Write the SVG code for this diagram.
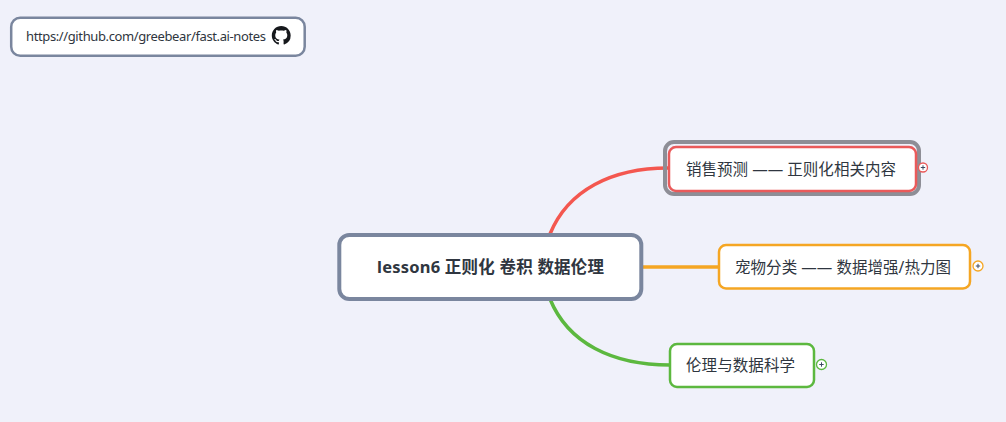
<svg xmlns="http://www.w3.org/2000/svg" width="1006" height="422" viewBox="0 0 1006 422">
  <style>
    text { font-family: "Noto Sans", "Noto Sans CJK SC", sans-serif; fill: #2f3640; }
    .box { fill: #ffffff; }
    .link { fill: none; stroke-width: 3.500; stroke-linecap: butt; }
    .t { font-size: 15.500px; }
    .exp { fill: #ffffff; stroke-width: 1.300; }
    .plus { stroke: #3c4a63; stroke-width: 1; fill: none; }
  </style>
  <rect width="1006" height="422" fill="#f0f1fa"/>
  <g id="connectors">
    <path class="link" stroke="#f4574f" d="M550 234 C568 190 612 168 668 168"/>
    <path class="link" stroke="#f5a623" d="M642 267 L719 267"/>
    <path class="link" stroke="#5cb83f" d="M550 299 C568 343 612 365 670 365"/>
  </g>
  <g id="link-node">
    <rect class="box" x="11.200" y="17.700" width="293.500" height="38" rx="9" stroke="#7a869e" stroke-width="2.500"/>
    <text x="26" y="41" font-size="13" textLength="240" lengthAdjust="spacing">https://github.com/greebear/fast.ai-notes</text>
    <path transform="translate(271.800 26) scale(1.180)" fill="#16181c" d="M8 0C3.580 0 0 3.580 0 8c0 3.540 2.290 6.530 5.470 7.590.4.070.55-.17.55-.38 0-.19-.01-.82-.01-1.490-2.010.37-2.530-.49-2.690-.94-.09-.23-.48-.94-.82-1.130-.28-.15-.68-.52-.01-.53.63-.01 1.080.58 1.230.82.72 1.210 1.870.87 2.330.66.07-.52.28-.87.51-1.070-1.780-.2-3.640-.89-3.640-3.950 0-.87.31-1.590.82-2.150-.08-.2-.36-1.020.08-2.120 0 0 .67-.21 2.200.82.64-.18 1.320-.27 2-.27s1.360.09 2 .27c1.530-1.040 2.200-.82 2.200-.82.44 1.100.16 1.920.08 2.120.51.56.82 1.270.82 2.150 0 3.070-1.870 3.750-3.650 3.950.29.25.54.73.54 1.480 0 1.070-.01 1.930-.01 2.200 0 .21.15.46.55.38A8.010 8.010 0 0 0 16 8c0-4.420-3.580-8-8-8z"/>
  </g>
  <g id="root">
    <rect class="box" x="339.300" y="235" width="302" height="64" rx="10" stroke="#7a869e" stroke-width="4"/>
    <text x="377" y="272.500" font-size="16.500" font-weight="700" textLength="227" lengthAdjust="spacing">lesson6 正则化 卷积 数据伦理</text>
  </g>
  <g id="node-sales">
    <rect x="665" y="142" width="254" height="52" rx="9" fill="none" stroke="#8e8e96" stroke-width="4"/>
    <rect class="box" x="669" y="147" width="247" height="44" rx="7" stroke="#ea5a5a" stroke-width="2.500"/>
    <text class="t" x="686" y="175" textLength="210" lengthAdjust="spacing">销售预测 —— 正则化相关内容</text>
    <circle class="exp" cx="923" cy="167.500" r="4.500" stroke="#ea5a5a"/>
    <path class="plus" d="M920.800 167.500h4.400M923 165.300v4.400"/>
  </g>
  <g id="node-pets">
    <rect class="box" x="719" y="245" width="251" height="43.500" rx="7" stroke="#f5a623" stroke-width="2.500"/>
    <text class="t" x="735" y="273" textLength="216" lengthAdjust="spacing">宠物分类 —— 数据增强/热力图</text>
    <circle class="exp" cx="978" cy="266" r="5" stroke="#f5a623"/>
    <path class="plus" d="M975.800 266h4.400M978 263.800v4.400"/>
  </g>
  <g id="node-ethics">
    <rect class="box" x="670" y="344" width="144" height="43" rx="7" stroke="#5cb83f" stroke-width="2.500"/>
    <text class="t" x="686" y="371" textLength="109" lengthAdjust="spacing">伦理与数据科学</text>
    <circle class="exp" cx="821.500" cy="364.500" r="5" stroke="#5cb83f"/>
    <path class="plus" d="M819.300 364.500h4.400M821.500 362.300v4.400"/>
  </g>
</svg>
